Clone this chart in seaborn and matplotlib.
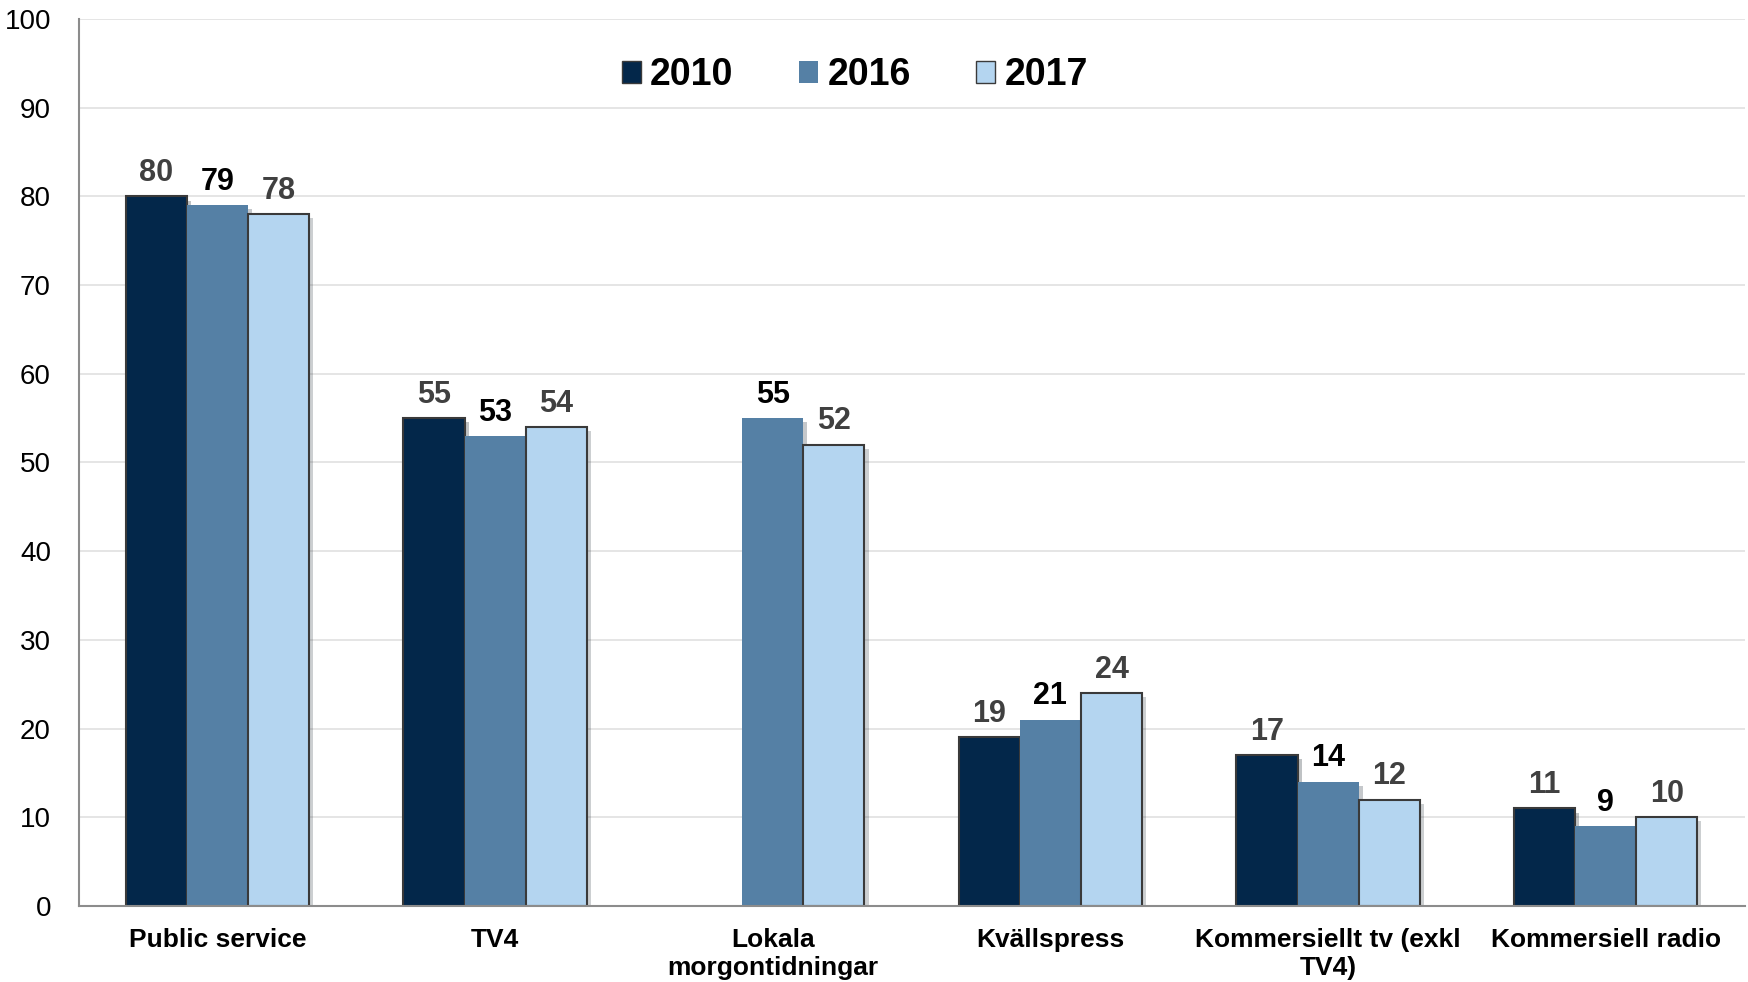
import matplotlib
matplotlib.use("Agg")
import matplotlib.pyplot as plt
import matplotlib.patheffects as pe
import seaborn as sns
import numpy as np
import pandas as pd

# data
categories = ["Public service", "TV4", "Lokala\nmorgontidningar", "Kvällspress",
              "Kommersiellt tv (exkl\nTV4)", "Kommersiell radio"]
years = ["2010", "2016", "2017"]
values_2010 = [80, 55, np.nan, 19, 17, 11]
values_2016 = [79, 53, 55, 21, 14, 9]
values_2017 = [78, 54, 52, 24, 12, 10]
y_ticks = list(range(0, 101, 10))

colors = ["#03274a", "#5580a5", "#b4d5f0"]
label_colors = ["#404040", "#000000", "#404040"]

rows = []
for year, vals in zip(years, [values_2010, values_2016, values_2017]):
    for cat, v in zip(categories, vals):
        rows.append({"Kategori": cat, "År": year, "Värde": v})
df = pd.DataFrame(rows)

sns.set_theme(style="white")
plt.rcParams["font.family"] = ["Liberation Sans", "DejaVu Sans"]
plt.rcParams["text.color"] = "black"
plt.rcParams["xtick.color"] = "black"
plt.rcParams["ytick.color"] = "black"

fig = plt.figure(figsize=(17.48, 9.82), dpi=100)
ax = fig.add_axes([0.045, 0.0774, 0.953, 0.9033])

sns.barplot(data=df, x="Kategori", y="Värde", hue="År", hue_order=years,
            palette=colors, width=0.66, gap=0, saturation=1, ax=ax,
            errorbar=None, legend=True)

shadow = [pe.SimplePatchShadow(offset=(3, -3), alpha=0.25), pe.Normal()]
for i, cont in enumerate(ax.containers):
    for bar in cont:
        if i == 1:
            bar.set_edgecolor("none")
        else:
            bar.set_edgecolor("#3a3a3a")
            bar.set_linewidth(1.5)
        bar.set_path_effects(shadow)
    labels = ["" if np.isnan(v) else f"{v:.0f}" for v in cont.datavalues]
    ax.bar_label(cont, labels=labels, padding=6, fontsize=22, fontweight="bold",
                 color=label_colors[i])

ax.set_xlim(-0.5, 5.5)
ax.set_ylim(0, 100)
ax.set_yticks(y_ticks)
ax.set_yticklabels([str(t) for t in y_ticks], fontsize=20, color="#000000")
ax.tick_params(axis="x", labelsize=19, pad=16, length=0, labelcolor="black")
ax.tick_params(axis="y", pad=20, length=0)
for lab in ax.get_xticklabels():
    lab.set_fontweight("bold")
    lab.set_linespacing(1.2)
    lab.set_verticalalignment("top")
ax.set_xlabel("")
ax.set_ylabel("")

ax.yaxis.grid(True, color="#e0e0e0", linewidth=1.2)
ax.set_axisbelow(True)
for side in ["top", "right"]:
    ax.spines[side].set_visible(False)
ax.spines["left"].set_color("#8c8c8c")
ax.spines["left"].set_linewidth(1.5)
ax.spines["bottom"].set_color("#8c8c8c")
ax.spines["bottom"].set_linewidth(1.5)

handles, lbls = ax.get_legend_handles_labels()
for j, h in enumerate(handles):
    h.set_edgecolor("none" if j == 1 else "#3a3a3a")
leg = ax.legend(handles, lbls, loc="upper center", bbox_to_anchor=(0.466, 0.995),
                ncol=3, frameon=False, handlelength=0.5, handleheight=0.5,
                columnspacing=1.75, handletextpad=0.25, labelcolor="black",
                prop={"size": 27, "weight": "bold"})

fig.savefig("out.png", dpi=100)
